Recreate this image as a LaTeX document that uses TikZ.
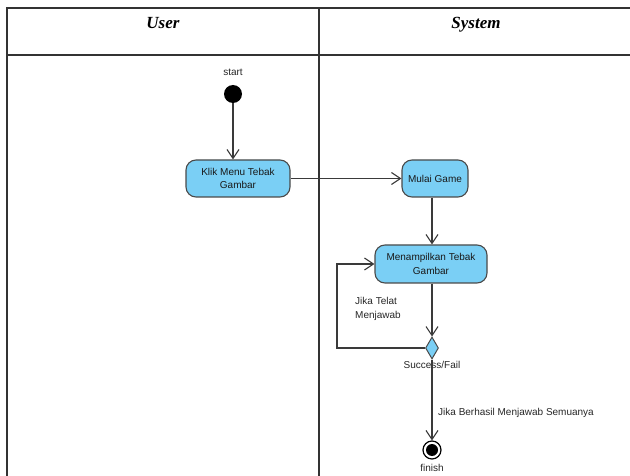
\documentclass[tikz,border=0pt]{standalone}
\usepackage{fontspec}
\setmainfont{Liberation Sans}
\newfontfamily\lanefont{Liberation Serif}
\usetikzlibrary{arrows.meta,shapes.geometric}

\definecolor{actfill}{HTML}{7ACFF5}
\definecolor{actline}{HTML}{4A4A4A}
\definecolor{flowline}{HTML}{3A3A3A}
\definecolor{laneline}{HTML}{333333}

\tikzset{
  lane/.style={draw=laneline, line width=1.4pt},
  lanetitle/.style={anchor=base, inner sep=0pt, font=\lanefont\fontsize{17}{19}\selectfont\bfseries\itshape},
  act/.style={draw=actline, fill=actfill, rounded corners=10pt, line width=1.1pt,
    align=center, inner sep=2pt, text=black!90, font=\fontsize{10}{13.5}\selectfont},
  decision/.style={draw=actline, fill=actfill, shape=diamond, aspect=0.55,
    inner sep=0pt, minimum width=13pt, minimum height=22pt, line width=1pt},
  initial/.style={circle, fill=black, inner sep=0pt, minimum size=18pt},
  finalring/.style={circle, draw=black, line width=1.2pt, fill=white, inner sep=0pt, minimum size=18pt},
  flow/.style={draw=flowline, line width=1.1pt, -{Straight Barb[length=9pt,width=12pt,line width=1.1pt]}},
  txt/.style={font=\fontsize{10}{14}\selectfont, text=black!85, inner sep=0pt},
}

\begin{document}
\begin{tikzpicture}[x=1pt,y=-1pt]
\useasboundingbox (0,0) rectangle (630,476);

% swimlane frame
\draw[lane] (630,8) -- (7,8) -- (7,476);
\draw[lane] (7,55) -- (630,55);
\draw[lane] (319,8) -- (319,476);
\node[lanetitle] (userlane) at (163,29) {User};
\node[lanetitle] (syslane) at (476,29) {System};

% activities
\node[initial] (start) at (233,94) {};
\node[act, minimum width=104pt, minimum height=37pt] (klik) at (238,178.5) {Klik Menu Tebak\\Gambar};
\node[act, minimum width=66pt, minimum height=37pt] (mulai) at (435,178.5) {Mulai Game};
\node[act, minimum width=112pt, minimum height=38pt] (tampil) at (431,264) {Menampilkan Tebak\\Gambar};
\node[decision] (dec) at (432,348) {};
\node[finalring] (final) at (432,450) {};
\node[circle, fill=black, inner sep=0pt, minimum size=12pt] (finaldot) at (final) {};

% labels
\node[txt] (startlbl) at (233,72) {start};
\node[txt] (declbl) at (432,365) {Success/Fail};
\node[txt, align=left, anchor=north west] (latelbl) at (355,297) {Jika Telat\\Menjawab};
\node[txt, anchor=west] (donelbl) at (438,413) {Jika Berhasil Menjawab Semuanya};
\node[txt] (finishlbl) at (432,468) {finish};

% control flow
\draw[flow] (start) -- (start |- klik.north);
\draw[flow] (klik.east) -- (mulai.west);
\draw[flow] (mulai.south -| dec) -- (tampil.north -| dec);
\draw[flow] (tampil.south -| dec) -- (dec.north);
\draw[flow] (dec.west) -- ++(-88,0) |- (tampil.west);
\draw[flow] (dec.south) -- (final.north);
\end{tikzpicture}
\end{document}
